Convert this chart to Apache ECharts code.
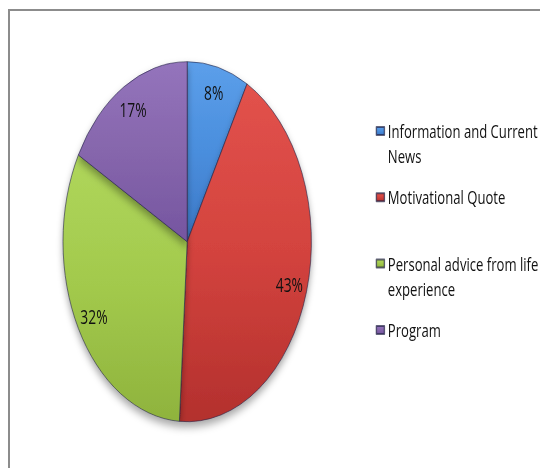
<!DOCTYPE html>
<html><head><meta charset="utf-8">
<script src="https://cdn.jsdelivr.net/npm/echarts@6/dist/echarts.min.js"></script>
<style>
html,body{margin:0;padding:0;background:#fff;overflow:hidden;width:540px;height:468px;}
#frame{position:absolute;left:8px;top:9px;width:540px;height:470px;border-left:2px solid #8c8c8c;border-top:2px solid #8c8c8c;}
#main{position:absolute;left:0;top:0;width:782.6px;height:468px;transform:scaleX(0.69);transform-origin:0 0;}
</style></head><body>
<div id="frame"></div>
<div id="main"></div>
<script>
// ---- data ----
const categories = ['Information and Current News', 'Motivational Quote', 'Personal advice from life experience', 'Program'];
const legendLines = ['Information and Current\nNews', 'Motivational Quote', 'Personal advice from life\nexperience', 'Program'];
const values = [8, 43, 32, 17];
const lightColors = ['#5c9fea', '#e2524c', '#afd65b', '#9474bc'];
const midColors   = ['#4a8edd', '#d3433e', '#a2c94c', '#8666ac'];
const darkColors  = ['#3c78c6', '#b3302d', '#8fb33d', '#7555a0'];

function grad(i) {
  return {
    type: 'linear', x: 0, y: 0, x2: 0, y2: 1,
    colorStops: [
      { offset: 0, color: lightColors[i] },
      { offset: 0.5, color: midColors[i] },
      { offset: 1, color: darkColors[i] }
    ]
  };
}

const pieData = categories.map((name, i) => ({
  name: name, value: values[i], itemStyle: { color: grad(i) }
}));
const labelData = categories.map((name, i) => ({ name: name, value: values[i] }));

const chart = echarts.init(document.getElementById('main'), null, { renderer: 'svg' });
const CX = 271.3, CY = 241.7, R = 180;
chart.setOption({
  animation: false,
  backgroundColor: 'transparent',
  legend: {
    orient: 'vertical',
    left: 544.5,
    top: 93.5,
    padding: 0,
    itemGap: 16.3,
    itemWidth: 11.6,
    itemHeight: 8,
    icon: 'rect',
    data: categories,
    selectedMode: false,
    textStyle: { fontFamily: 'Open Sans', fontSize: 19, lineHeight: 25, color: '#111' },
    formatter: function (name) {
      const t = legendLines[categories.indexOf(name)];
      return t.indexOf('\n') >= 0 ? '\n' + t : t;
    }
  },
  series: [
    {
      type: 'pie',
      name: 'main',
      center: [CX, CY],
      radius: [0, R],
      startAngle: 90,
      clockwise: true,
      emphasis: { disabled: true },
      label: { show: false },
      labelLine: { show: false },
      itemStyle: {
        borderColor: 'rgba(35,35,70,0.7)',
        borderWidth: 1,
        shadowBlur: 9,
        shadowOffsetY: 5,
        shadowColor: 'rgba(0,0,0,0.35)'
      },
      data: pieData
    },
    {
      type: 'pie',
      name: 'labels',
      center: [CX, CY],
      radius: [R * 0.68, R],
      startAngle: 90,
      clockwise: true,
      silent: true,
      emphasis: { disabled: true },
      itemStyle: { color: 'rgba(0,0,0,0)', borderWidth: 0 },
      label: {
        show: true,
        position: 'inside',
        formatter: '{d}%',
        fontFamily: 'Open Sans',
        fontSize: 20,
        color: '#111'
      },
      labelLine: { show: false },
      percentPrecision: 0,
      data: labelData
    }
  ]
});
</script>
</body></html>
